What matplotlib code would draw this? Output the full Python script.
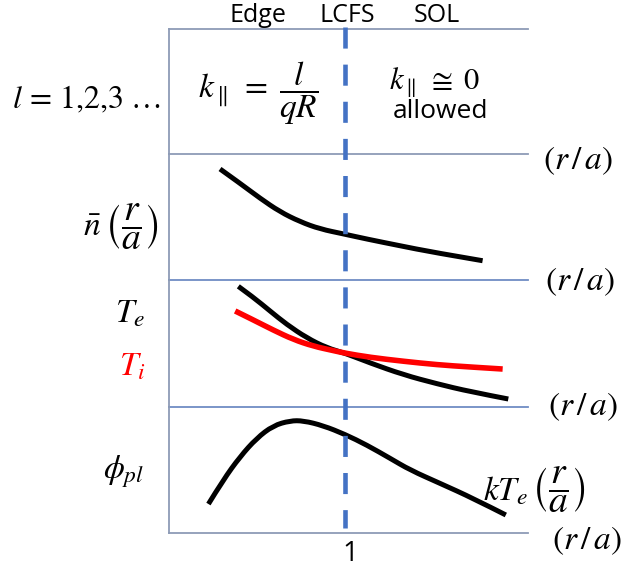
import numpy as np
import matplotlib
matplotlib.use("Agg")
import matplotlib.pyplot as plt
from matplotlib.path import Path
from matplotlib.patches import PathPatch

plt.rcParams["mathtext.fontset"] = "stix"
plt.rcParams["font.family"] = ["Open Sans", "DejaVu Sans"]

# Normalised radius r/a along the horizontal axis
R_MIN, R_MAX = 0.5, 1.52
LCFS = 1.0

# Density profile n(r/a)
n_r = [0.645, 0.702, 0.759, 0.815, 0.872, 0.929, 0.997, 1.062, 1.156, 1.250, 1.391]
n_v = [0.881, 0.767, 0.648, 0.542, 0.463, 0.405, 0.365, 0.325, 0.272, 0.220, 0.153]

# Electron and ion temperature profiles
te_r = [0.697, 0.740, 0.787, 0.834, 0.891, 0.948, 1.000, 1.071, 1.166, 1.261, 1.355, 1.464]
te_v = [0.950, 0.863, 0.756, 0.651, 0.545, 0.466, 0.424, 0.347, 0.254, 0.183, 0.121, 0.063]
ti_r = [0.688, 0.740, 0.796, 0.853, 0.910, 0.967, 1.000, 1.071, 1.166, 1.261, 1.355, 1.448]
ti_v = [0.756, 0.685, 0.606, 0.532, 0.479, 0.444, 0.424, 0.391, 0.360, 0.333, 0.315, 0.299]

# Plasma potential profile
phi_r = [0.612, 0.654, 0.702, 0.749, 0.796, 0.844, 0.882, 0.938, 1.000, 1.062,
         1.128, 1.185, 1.270, 1.364, 1.457]
phi_v = [0.230, 0.421, 0.606, 0.752, 0.852, 0.891, 0.891, 0.852, 0.783, 0.698,
         0.593, 0.500, 0.394, 0.275, 0.143]

region_labels = ["Edge", "LCFS", "SOL"]

W, H = 625, 571
fig = plt.figure(figsize=(W / 100, H / 100), dpi=100)

FRAME = "#8d9bb6"
FRAME_BLUE = "#6f8cc4"
X0, X1 = 169, 528
panel_edges = [29, 154, 280, 407, 533]


def fig_rect(top, bottom):
    return [X0 / W, 1 - bottom / H, (X1 - X0) / W, (bottom - top) / H]


def smooth_profile(ax, xs, ys, color="black", lw=3.6, zorder=2):
    """Draw a profile as a chain of quadratic Bezier segments through its samples."""
    pts = np.column_stack([xs, ys])
    verts = [pts[0]]
    codes = [Path.MOVETO]
    n = len(pts)
    for i in range(1, n - 1):
        end = pts[n - 1] if i == n - 2 else (pts[i] + pts[i + 1]) / 2
        verts += [pts[i], end]
        codes += [Path.CURVE3, Path.CURVE3]
    patch = PathPatch(Path(verts, codes), facecolor="none", edgecolor=color,
                      lw=lw, capstyle="butt", joinstyle="round", zorder=zorder)
    ax.add_patch(patch)


axes = []
for i in range(4):
    ax = fig.add_axes(fig_rect(panel_edges[i], panel_edges[i + 1]))
    ax.set_xlim(R_MIN, R_MAX)
    ax.set_ylim(0, 1)
    ax.set_xticks([])
    ax.set_yticks([])
    ax.patch.set_alpha(0)
    for side in ("right", "top"):
        ax.spines[side].set_visible(False)
    ax.spines["left"].set_color(FRAME)
    ax.spines["bottom"].set_color(FRAME_BLUE if i in (1, 2) else FRAME)
    ax.spines["left"].set_linewidth(1.3)
    ax.spines["bottom"].set_linewidth(1.3)
    axes.append(ax)
axes[0].spines["top"].set_visible(True)
axes[0].spines["top"].set_color(FRAME)
axes[0].spines["top"].set_linewidth(1.3)

smooth_profile(axes[1], n_r, n_v)
smooth_profile(axes[2], te_r, te_v)
smooth_profile(axes[2], ti_r, ti_v, color="#ff0000", lw=4.0, zorder=3)
smooth_profile(axes[3], phi_r, phi_v)

# Overlay spanning the full height for the LCFS marker (y in figure pixels)
over = fig.add_axes([X0 / W, 0, (X1 - X0) / W, 1])
over.set_xlim(R_MIN, R_MAX)
over.set_ylim(H, 0)
over.axis("off")
over.patch.set_alpha(0)
over.plot([LCFS, LCFS], [27, 528], color="#4472c4", lw=3.3,
          dashes=(4.6, 3.5), dash_capstyle="butt", zorder=5)


def put(x, y, s, size, ha="center", va="center", color="black", **kw):
    fig.text(x / W, 1 - y / H, s, fontsize=size, ha=ha, va=va, color=color, **kw)


RA_GROUP = r"$\left(\dfrac{r}{a}\right)$"

# Region names above the frame
put(258, 15, region_labels[0], 18)
put(347, 15, region_labels[1], 18)
put(437, 15, region_labels[2], 18)

# Top panel: parallel wave-number annotations
put(12, 100, r"$l\,=\,1{,}2{,}3\;\ldots$", 23, ha="left")
put(258, 93, r"$k_{\parallel}\;=\;\dfrac{l}{qR}$", 24)
put(434, 83, r"$k_{\parallel}\;\cong\;0$", 22)
put(440, 112, "allowed", 19)

# Row labels
put(101, 227, r"$\bar{n}$", 24, ha="right")
put(104, 227, RA_GROUP, 27, ha="left")
put(130, 314, r"$T_e$", 24)
put(132, 367, r"$T_i$", 24, color="#ff0000")
put(124, 472, r"$\phi_{pl}$", 24)
put(528, 492, r"$kT_e$", 24, ha="right")
put(531, 490, RA_GROUP, 27, ha="left")

# Axis labels on the right of each panel
for xl, yl in [(543, 161), (545, 282), (548, 407), (552, 541)]:
    put(xl, yl, r"$(r\,/\,a)$", 24, ha="left")

put(350, 554, "1", 20)

fig.savefig("out.png", dpi=100)
